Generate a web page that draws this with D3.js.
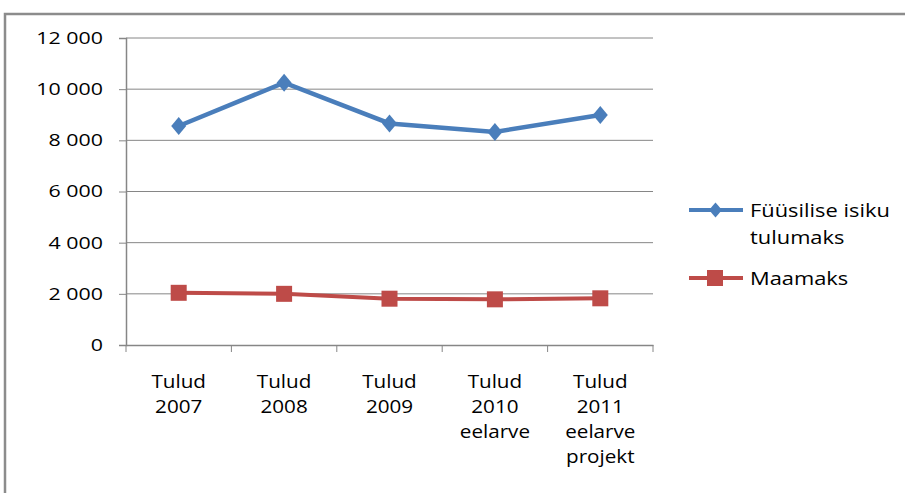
<!DOCTYPE html>
<html>
<head>
<meta charset="utf-8">
<title>Tulud</title>
<style>
  body { margin: 0; background: #fff; }
  svg text { font-family: "Open Sans", "Liberation Sans", sans-serif; fill: #000; }
</style>
<script src="https://d3js.org/d3.v7.min.js"></script>
</head>
<body>
<svg id="chart" width="905" height="493"></svg>
<script>
// data
var categories = [
  ["Tulud", "2007"],
  ["Tulud", "2008"],
  ["Tulud", "2009"],
  ["Tulud", "2010", "eelarve"],
  ["Tulud", "2011", "eelarve", "projekt"]
];
var fyysiline = [8560, 10250, 8660, 8330, 8990];
var maamaks = [2040, 2000, 1810, 1785, 1825];
var yTicks = [0, 2000, 4000, 6000, 8000, 10000, 12000];

var svg = d3.select("#chart");

// outer frame
svg.append("path")
  .attr("d", "M5,493 V14 H905")
  .attr("fill", "none")
  .attr("stroke", "#8c8c8c")
  .attr("stroke-width", 2.5);

// plot area (not "top" - that's window.top)
var pLeft = 126, pRight = 653, pTop = 38, pBottom = 345;

var x = d3.scaleBand().domain(d3.range(categories.length)).range([pLeft, pRight]);
var y = d3.scaleLinear().domain([0, 12000]).range([pBottom, pTop]);

var fmt = function(d) { return d3.format(",")(d).replace(",", " "); };

// the original text is stretched wide, so squash it back in x
var yStretch = 1.38, xStretch = 1.18, lgStretch = 1.25;

// grid
svg.append("g").selectAll("line")
  .data(yTicks.filter(function(d) { return d > 0; }))
  .join("line")
  .attr("x1", pLeft).attr("x2", pRight)
  .attr("y1", function(d) { return y(d); })
  .attr("y2", function(d) { return y(d); })
  .attr("stroke", "#868686").attr("stroke-width", 1);

// y axis
var yAxis = svg.append("g")
  .attr("transform", "translate(" + pLeft + ",0)")
  .call(d3.axisLeft(y).tickValues(yTicks).tickSize(7).tickFormat(fmt));
yAxis.select(".domain").attr("stroke", "#868686").attr("stroke-width", 1.5);
yAxis.selectAll(".tick line").attr("stroke", "#868686");
yAxis.selectAll("text")
  .style("font-size", "15.5px")
  .attr("dy", "0.35em")
  .attr("x", -23 / yStretch)
  .attr("transform", "scale(" + yStretch + ",1)");

// x axis
var xAxis = svg.append("g")
  .attr("transform", "translate(0," + pBottom + ")")
  .call(d3.axisBottom(x).tickSize(0).tickFormat(""));
xAxis.select(".domain").attr("stroke", "#868686").attr("stroke-width", 1.5);
svg.append("g").selectAll("line")
  .data(d3.range(categories.length + 1))
  .join("line")
  .attr("x1", function(i) { return i < categories.length ? x(i) : pRight; })
  .attr("x2", function(i) { return i < categories.length ? x(i) : pRight; })
  .attr("y1", pBottom).attr("y2", pBottom + 7)
  .attr("stroke", "#868686");

svg.append("g").selectAll("text")
  .data(categories)
  .join("text")
  .attr("transform", function(d, i) {
    return "translate(" + (x(i) + x.bandwidth() / 2) + ",388) scale(" + xStretch + ",1)";
  })
  .attr("text-anchor", "middle")
  .style("font-size", "17.5px")
  .selectAll("tspan")
  .data(function(d) { return d; })
  .join("tspan")
  .attr("x", 0)
  .attr("dy", function(d, i) { return i === 0 ? 0 : 25; })
  .text(function(d) { return d; });

var cx = function(d, i) { return x(i) + x.bandwidth() / 2; };
var line = d3.line().x(cx).y(function(d) { return y(d); });

var blue = "#4a7ebb", red = "#be4b48";

// Füüsilise isiku tulumaks
svg.append("path").datum(fyysiline)
  .attr("d", line).attr("fill", "none")
  .attr("stroke", blue).attr("stroke-width", 4.5);
svg.append("g").selectAll("path")
  .data(fyysiline)
  .join("path")
  .attr("d", "M0,-9 L7.5,0 L0,9 L-7.5,0 Z")
  .attr("transform", function(d, i) { return "translate(" + cx(d, i) + "," + y(d) + ")"; })
  .attr("fill", blue);

// Maamaks
svg.append("path").datum(maamaks)
  .attr("d", line).attr("fill", "none")
  .attr("stroke", red).attr("stroke-width", 4);
svg.append("g").selectAll("rect")
  .data(maamaks)
  .join("rect")
  .attr("x", function(d, i) { return cx(d, i) - 8; })
  .attr("y", function(d) { return y(d) - 8; })
  .attr("width", 16).attr("height", 16)
  .attr("fill", red);

// legend
var lg = svg.append("g");
lg.append("line").attr("x1", 689).attr("x2", 743).attr("y1", 210).attr("y2", 210)
  .attr("stroke", blue).attr("stroke-width", 4);
lg.append("path").attr("d", "M0,-7.5 L6.5,0 L0,7.5 L-6.5,0 Z")
  .attr("transform", "translate(715.5,210)").attr("fill", blue);
lg.append("text").attr("transform", "translate(750,217) scale(" + lgStretch + ",1)")
  .style("font-size", "17.5px").text("Füüsilise isiku");
lg.append("text").attr("transform", "translate(750,244) scale(" + lgStretch + ",1)")
  .style("font-size", "17.5px").text("tulumaks");

lg.append("line").attr("x1", 689).attr("x2", 743).attr("y1", 278).attr("y2", 278)
  .attr("stroke", red).attr("stroke-width", 4);
lg.append("rect").attr("x", 707).attr("y", 270).attr("width", 16).attr("height", 16).attr("fill", red);
lg.append("text").attr("transform", "translate(750,285) scale(" + lgStretch + ",1)")
  .style("font-size", "17.5px").text("Maamaks");
</script>
</body>
</html>
